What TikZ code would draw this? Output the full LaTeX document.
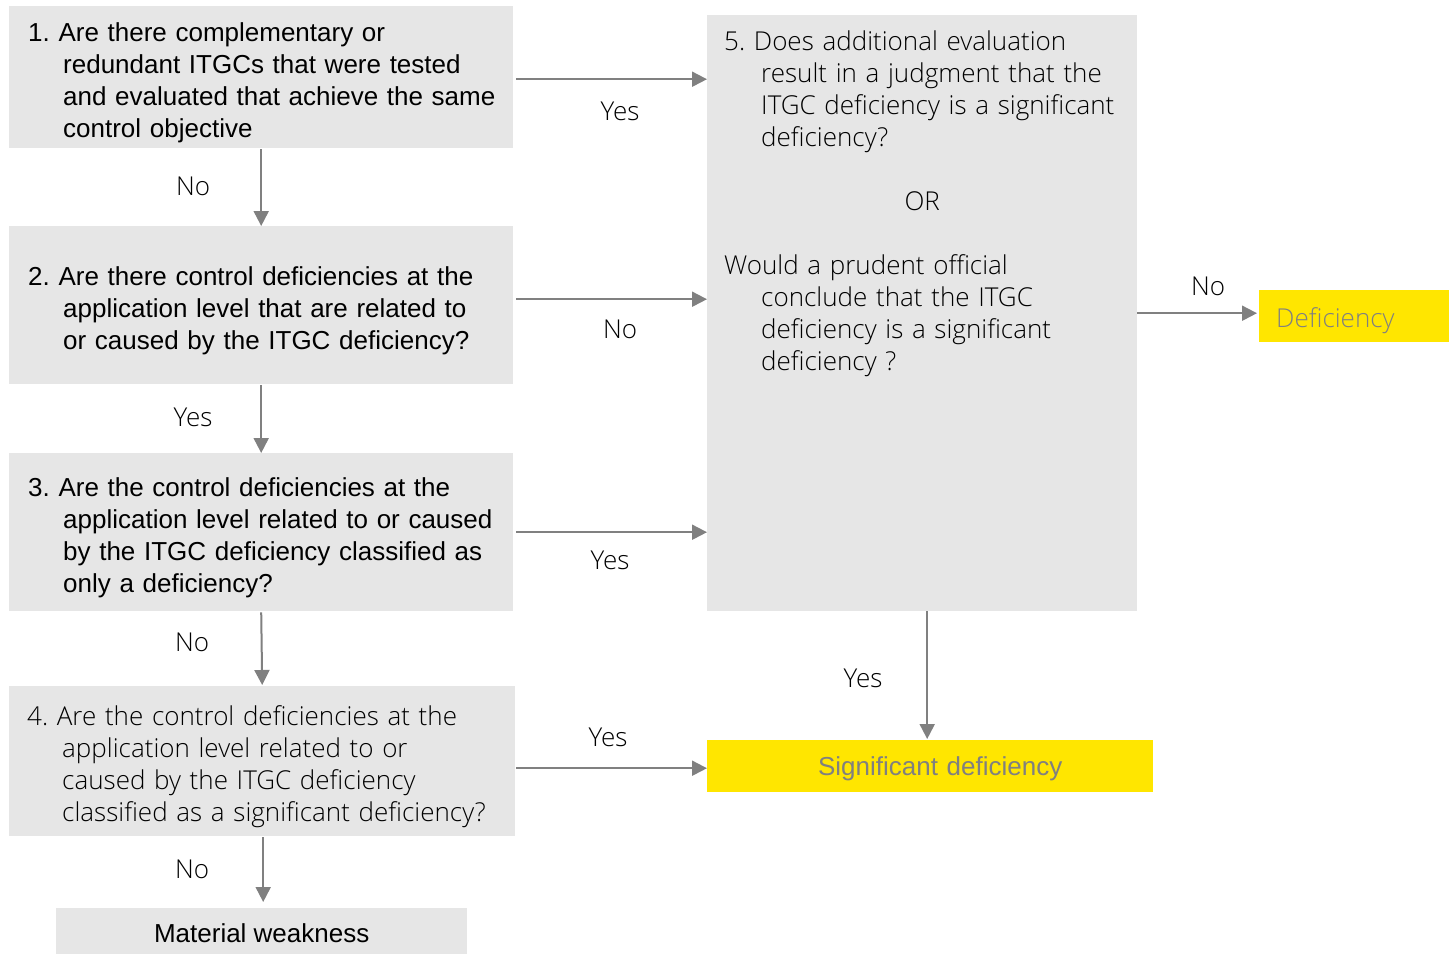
\documentclass[tikz,border=0pt]{standalone}
\usepackage{fontspec}
\setmainfont{Liberation Sans}
\newfontfamily\osans{Open Sans Light}
\usetikzlibrary{arrows.meta}
\definecolor{boxgrey}{HTML}{E6E6E6}
\definecolor{eyyellow}{HTML}{FFE600}
\definecolor{arrowgrey}{HTML}{808080}
\definecolor{txtgrey}{HTML}{808080}
\definecolor{ink}{HTML}{000000}
\frenchspacing
\newcommand\topfix{\rule{0pt}{30pt}}
\newcommand\lowerby[2]{\raisebox{-#1}[\height][\depth]{#2}}
\tikzset{
  qbox/.style={fill=boxgrey, draw=none, anchor=north west, inner sep=0pt,
    align=left, text=ink},
  arial/.style={font=\fontsize{26}{32}\selectfont},
  opens/.style={font=\osans\fontsize{26}{32}\selectfont},
  ybox/.style={fill=eyyellow, draw=none, anchor=north west, inner sep=0pt, text=txtgrey},
  lbl/.style={font=\osans\fontsize{26}{28}\selectfont, text=ink, inner sep=0pt},
  arr/.style={draw=arrowgrey, line width=2pt, -{Triangle[length=15pt,width=15pt]}}
}
\begin{document}
\begin{tikzpicture}[x=1pt,y=-1pt]
\useasboundingbox (0,0) rectangle (1449,954);
% question boxes
\node[qbox, arial, minimum width=504pt, minimum height=142pt, text width=466pt] (q1) at (9,6)
  {\topfix 1. Are there complementary or\\\hspace*{35pt}\mbox{redundant ITGCs that were tested}\\\hspace*{35pt}\mbox{and evaluated that achieve the same}\\\hspace*{35pt}control objective};
\node[qbox, arial, minimum width=504pt, minimum height=158pt, text width=466pt] (q2) at (9,226)
  {\topfix 2. Are there control deficiencies at the\\\hspace*{35pt}application level that are related to\\\hspace*{35pt}or caused by the ITGC deficiency?};
\node[qbox, arial, minimum width=504pt, minimum height=158pt, text width=466pt] (q3) at (9,453)
  {\topfix 3. Are the control deficiencies at the\\\hspace*{35pt}\mbox{application level related to or caused}\\\hspace*{35pt}by the ITGC deficiency classified as\\\hspace*{35pt}only a deficiency?};
\node[qbox, opens, minimum width=506pt, minimum height=150pt, text width=470pt] (q4) at (9,686)
  {\topfix 4. Are the control deficiencies at the\\\hspace*{35pt}application level related to or\\\hspace*{35pt}caused by the ITGC deficiency\\\hspace*{35pt}\mbox{classified as a significant deficiency?}};
\node[qbox, arial, minimum width=411pt, minimum height=46pt, align=center] (mw) at (56,908) {\lowerby{2pt}{Material weakness}};
% box 5
\node[qbox, minimum width=430pt, minimum height=596pt] (q5) at (707,15) {};
\node[anchor=north west, inner sep=0pt, opens, text=ink, align=left, text width=400pt] (q5t) at (724,31)
  {5. Does additional evaluation\\\hspace*{37pt}result in a judgment that the\\\hspace*{37pt}ITGC deficiency is a significant\\\hspace*{37pt}deficiency?\\\mbox{}\\\makebox[396pt]{OR}\\\mbox{}\\Would a prudent official\\\hspace*{37pt}conclude that the ITGC\\\hspace*{37pt}deficiency is a significant\\\hspace*{37pt}deficiency ?};
% outcomes
\node[ybox, arial, minimum width=446pt, minimum height=52pt, text width=446pt, align=center] (sig) at (707,740) {\hspace*{20pt}\lowerby{3pt}{Significant deficiency}};
\node[ybox, opens, minimum width=190pt, minimum height=52pt, text width=156pt, align=left] (def) at (1259,290) {\lowerby{4pt}{Deficiency}};
% connectors
\draw[arr, shorten <=3pt] ([yshift=-2pt]q1.east) -- ([yshift=-2pt]q1.east -| q5.west);
\draw[arr, shorten <=3pt] ([yshift=6pt]q2.east) -- ([yshift=6pt]q2.east -| q5.west);
\draw[arr, shorten <=3pt] (q3.east) -- (q3.east -| q5.west);
\draw[arr, shorten <=1pt] ([yshift=-7pt]q4.east) -- ([yshift=-7pt]q4.east -| sig.west);
\draw[arr, shorten <=1pt] (q1.south) -- (q2.north);
\draw[arr, shorten <=1pt] (q2.south) -- (q3.north);
\draw[arr, shorten <=1pt, shorten >=1pt] (q3.south) -- (q4.north);
\draw[arr, shorten <=1pt, shorten >=6pt] ([xshift=1pt]q4.south) -- ([xshift=1pt]q4.south |- mw.north);
\draw[arr, shorten >=1pt] ([xshift=5pt]q5.south) -- ([xshift=5pt]q5.south |- sig.north);
\draw[arr, shorten >=2pt] (q5.east) -- (q5.east -| def.west);
% labels
\node[lbl] (l1) at (620,111) {Yes};
\node[lbl] (l2) at (193,186) {No};
\node[lbl] (l3) at (620,329) {No};
\node[lbl] (l4) at (193,417) {Yes};
\node[lbl] (l5) at (610,560) {Yes};
\node[lbl] (l6) at (192,642) {No};
\node[lbl] (l7) at (608,737) {Yes};
\node[lbl] (l8) at (192,869) {No};
\node[lbl] (l9) at (1208,286) {No};
\node[lbl] (l10) at (863,678) {Yes};
\end{tikzpicture}
\end{document}
